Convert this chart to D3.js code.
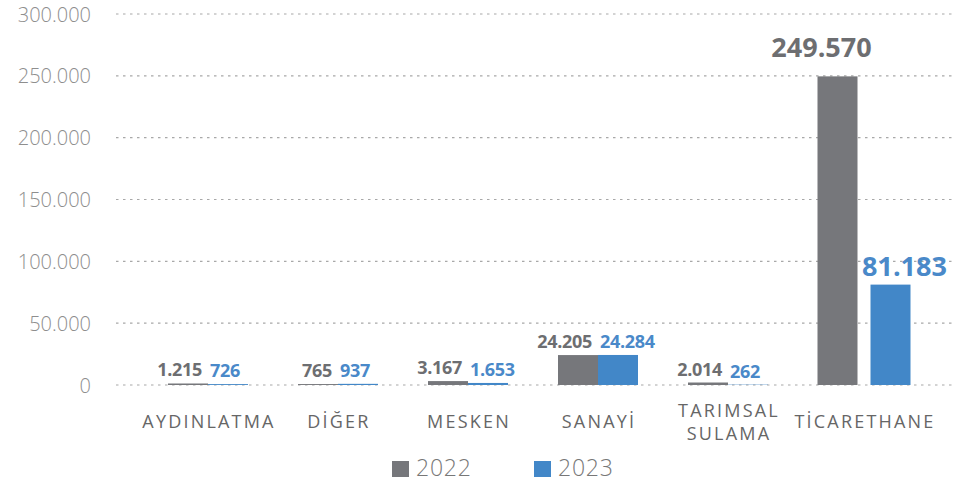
<!DOCTYPE html>
<html>
<head>
<meta charset="utf-8">
<script src="https://cdn.jsdelivr.net/npm/d3@7"></script>
<style>
  html, body { margin: 0; padding: 0; background: #fff; }
  svg { display: block; font-family: "Open Sans", "Noto Sans", sans-serif; }
</style>
</head>
<body>
<svg id="chart" width="956" height="482"></svg>
<script>
// Categories (line breaks in labels marked with "\n")
const categories = ["AYDINLATMA", "DİĞER", "MESKEN", "SANAYİ", "TARIMSAL\nSULAMA", "TİCARETHANE"];
const seriesNames = ["2022", "2023"];
const values2022 = [1215, 765, 3167, 24205, 2014, 249570];
const values2023 = [726, 937, 1653, 24284, 262, 81183];
const yTicks = [0, 50000, 100000, 150000, 200000, 250000, 300000];

const colors = { "2022": "#76777b", "2023": "#4287c8" };
const labelColors = { "2022": "#6d6e71", "2023": "#4a89c9" };

const svg = d3.select("#chart");
const fmt = v => d3.format(",")(v).replace(/,/g, ".");

const y = d3.scaleLinear().domain([0, 300000]).range([385, 14]);
const x0 = d3.scaleBand().domain(categories).range([143, 923]).paddingInner(0).paddingOuter(0);
const barW = 40;

// Gridlines
const grid = svg.append("g");
grid.selectAll("line").data(yTicks).join("line")
  .attr("x1", 116).attr("x2", 956)
  .attr("y1", d => y(d)).attr("y2", d => y(d))
  .attr("stroke", "#a8a8a8").attr("stroke-width", 1.2)
  .attr("stroke-dasharray", "2.5,4.5");

// Y axis labels
const yAxis = svg.append("g").attr("transform", "translate(91,0)")
  .call(d3.axisLeft(y).tickValues(yTicks).tickSize(0).tickPadding(0).tickFormat(fmt));
yAxis.select(".domain").remove();
yAxis.selectAll("text")
  .attr("font-family", "'Open Sans', sans-serif")
  .attr("font-size", 20).attr("font-weight", 300).attr("fill", "#8e8e8e")
  .attr("dy", "0.35em");

// Bars and value labels
const big = 60000; // groups with a value above this get larger labels
const rows = categories.map((c, i) => ({ c, vals: [values2022[i], values2023[i]] }));
const wideGroup = "TİCARETHANE"; // bars of this group drawn apart
const centerOf = c => x0(c) + x0.bandwidth() / 2 + (c === wideGroup ? 6 : 0);

rows.forEach(r => {
  const cx = centerOf(r.c);
  const gap = r.c === wideGroup ? 13 : 0;
  const isBig = r.vals.some(u => u > big);
  r.vals.forEach((v, k) => {
    const s = seriesNames[k];
    const bx = k === 0 ? cx - barW - gap / 2 : cx + gap / 2;
    svg.append("rect")
      .attr("x", bx).attr("width", barW)
      .attr("y", y(v)).attr("height", y(0) - y(v))
      .attr("fill", colors[s]);
    const lbl = svg.append("text")
      .attr("font-weight", 700)
      .attr("fill", labelColors[s])
      .text(fmt(v));
    if (isBig) {
      lbl.attr("x", bx + barW / 2 + (k === 0 ? -16 : 14))
        .attr("y", y(v) - (k === 0 ? 19 : 9))
        .attr("text-anchor", "middle")
        .attr("font-size", 27);
    } else {
      lbl.attr("x", k === 0 ? bx + barW - 6 : bx + 2)
        .attr("y", y(v) - 7)
        .attr("text-anchor", k === 0 ? "end" : "start")
        .attr("font-size", 18)
        .attr("letter-spacing", -0.3);
    }
  });
  // Category label
  const lines = r.c.split("\n");
  const t = svg.append("text")
    .attr("y", lines.length > 1 ? 417 : 428)
    .attr("text-anchor", "middle")
    .attr("font-size", 18).attr("fill", "#666")
    .attr("letter-spacing", 2.2);
  lines.forEach((ln, j) => t.append("tspan")
    .attr("x", cx + 1)
    .attr("dy", j === 0 ? 0 : 23).text(ln));
});

// Legend
const legend = svg.append("g");
const legendX = [392, 534];
seriesNames.forEach((s, k) => {
  legend.append("rect").attr("x", legendX[k]).attr("y", 461).attr("width", 17).attr("height", 16)
    .attr("fill", colors[s]);
  legend.append("text").attr("x", legendX[k] + 24).attr("y", 476)
    .attr("font-size", 23).attr("font-weight", 300).attr("fill", "#777")
    .attr("letter-spacing", 0.8)
    .text(s);
});
</script>
</body>
</html>
